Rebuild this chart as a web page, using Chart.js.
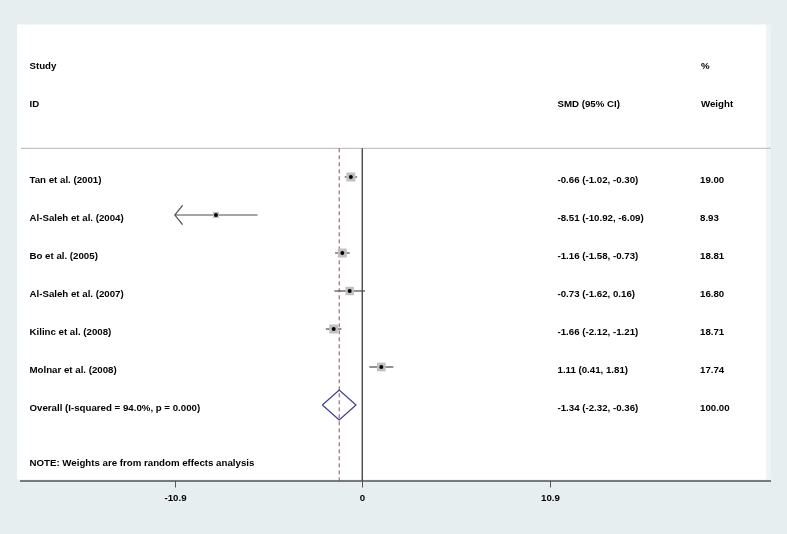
<!DOCTYPE html>
<html>
<head>
<meta charset="utf-8">
<script src="https://cdn.jsdelivr.net/npm/chart.js@4.4.1/dist/chart.umd.min.js"></script>
<style>
  html, body { margin: 0; padding: 0; background: #e7eef0; }
  #c { display: block; }
</style>
</head>
<body>
<canvas id="c" width="787" height="534"></canvas>
<script>
// ---- data ----
const studies = ['Tan et al. (2001)', 'Al-Saleh et al. (2004)', 'Bo et al. (2005)', 'Al-Saleh et al. (2007)', 'Kilinc et al. (2008)', 'Molnar et al. (2008)'];
const smd     = [-0.66, -8.51, -1.16, -0.73, -1.66, 1.11];
const lower   = [-1.02, -10.92, -1.58, -1.62, -2.12, 0.41];
const upper   = [-0.30, -6.09, -0.73, 0.16, -1.21, 1.81];
const weights = [19.00, 8.93, 18.81, 16.80, 18.71, 17.74];
const overallLabel = 'Overall (I-squared = 94.0%, p = 0.000)';
const overallEst = -1.34;
const overallLo = -2.32;
const overallHi = -0.36;
const overallWeight = 100.00;
const tickValues = [-10.9, 0, 10.9];
const tickLabels = ['-10.9', '0', '10.9'];
const headerStudy = ['Study', 'ID'];
const headerEffect = 'SMD (95% CI)';
const headerWeight = ['%', 'Weight'];
const note = 'NOTE: Weights are from random effects analysis';

// ---- layout helpers ----
const rows = studies.map((s, i) => i + 1);
const overallRow = studies.length + 1;
const FONT = 'bold 9.7px "Liberation Sans", Arial, sans-serif';
const colStudy = 29.5, colEffect = 557.5, colWeight = 700;
const sepRow = 0.245, yMin = -3, yMax = 9;

const ciSets = studies.map((s, i) => ({
  type: 'line',
  data: [{x: Math.max(lower[i], tickValues[0]), y: rows[i]}, {x: upper[i], y: rows[i]}],
  borderColor: '#4a4a4a', borderWidth: 1.2, pointRadius: 0, fill: false, order: 3
}));

const datasets = [
  { // point estimates
    type: 'scatter',
    data: studies.map((s, i) => ({x: smd[i], y: rows[i]})),
    pointStyle: 'circle', pointRadius: 2, backgroundColor: '#000', borderWidth: 0, order: 0
  },
  { // weight boxes
    type: 'scatter',
    data: studies.map((s, i) => ({x: smd[i], y: rows[i]})),
    pointStyle: 'rect',
    pointRadius: ctx => 2.065 * Math.sqrt(weights[ctx.dataIndex]) / Math.SQRT2,
    backgroundColor: '#c0c0c0', borderWidth: 0, order: 1
  },
  ...ciSets,
  { // overall diamond
    type: 'line',
    data: [
      {x: overallLo, y: overallRow}, {x: overallEst, y: overallRow - 0.395},
      {x: overallHi, y: overallRow}, {x: overallEst, y: overallRow + 0.395},
      {x: overallLo, y: overallRow}
    ],
    borderColor: '#3d3d8c', borderWidth: 1.2, pointRadius: 0, fill: false, tension: 0, order: 4
  },
  { // null line
    type: 'line',
    data: [{x: 0, y: sepRow}, {x: 0, y: yMax}],
    borderColor: '#2a2a2a', borderWidth: 1.2, pointRadius: 0, fill: false, order: 5
  },
  { // overall dashed line
    type: 'line',
    data: [{x: overallEst, y: sepRow}, {x: overallEst, y: yMax}],
    borderColor: '#9c4a4a', borderWidth: 1, borderDash: [4, 3], pointRadius: 0, fill: false, order: 5
  }
];

const forestPlugin = {
  id: 'forest',
  beforeDraw(chart) {
    const ctx = chart.ctx;
    const ys = chart.scales.y;
    ctx.save();
    ctx.fillStyle = '#e7eef0';
    ctx.fillRect(0, 0, chart.width, chart.height);
    ctx.fillStyle = '#ffffff';
    ctx.fillRect(17, 24.5, 749, 455);
    ctx.fillStyle = '#eef3f5';
    ctx.fillRect(766, 24.5, 5, 455);
    // separator
    const sy = ys.getPixelForValue(sepRow);
    ctx.strokeStyle = '#c4c4c4';
    ctx.lineWidth = 1.3;
    ctx.beginPath();
    ctx.moveTo(21, sy); ctx.lineTo(771, sy);
    ctx.stroke();
    ctx.restore();
  },
  afterDatasetsDraw(chart) {
    const ctx = chart.ctx;
    const xs = chart.scales.x, ys = chart.scales.y;
    const area = chart.chartArea;
    ctx.save();
    // arrows for truncated CIs
    ctx.strokeStyle = '#4a4a4a';
    ctx.lineWidth = 1.2;
    studies.forEach((s, i) => {
      if (lower[i] < tickValues[0]) {
        const px = xs.getPixelForValue(tickValues[0]);
        const py = ys.getPixelForValue(rows[i]);
        ctx.beginPath();
        ctx.moveTo(px + 7.7, py - 9.7);
        ctx.lineTo(px, py);
        ctx.lineTo(px + 7.7, py + 9.7);
        ctx.stroke();
      }
    });
    // axis
    const ay = area.bottom;
    ctx.strokeStyle = '#555555';
    ctx.lineWidth = 1.5;
    ctx.beginPath();
    ctx.moveTo(area.left, ay); ctx.lineTo(area.right, ay);
    ctx.stroke();
    ctx.lineWidth = 1;
    ctx.fillStyle = '#000';
    ctx.font = FONT;
    ctx.textAlign = 'center';
    ctx.textBaseline = 'alphabetic';
    tickValues.forEach((v, k) => {
      const tx = Math.round(xs.getPixelForValue(v)) + 0.5;
      ctx.beginPath();
      ctx.moveTo(tx, ay); ctx.lineTo(tx, ay + 6.5);
      ctx.stroke();
      ctx.fillText(tickLabels[k], tx, ay + 20);
    });
    // text columns
    ctx.textAlign = 'left';
    const base = r => ys.getPixelForValue(r) + 5.6;
    ctx.fillText(headerStudy[0], colStudy, base(-2));
    ctx.fillText(headerStudy[1], colStudy, base(-1));
    ctx.fillText(headerEffect, colEffect, base(-1));
    ctx.fillText(headerWeight[0], colWeight + 1, base(-2));
    ctx.fillText(headerWeight[1], colWeight + 1, base(-1));
    const f = v => v.toFixed(2);
    studies.forEach((s, i) => {
      ctx.fillText(s, colStudy, base(rows[i]));
      ctx.fillText(f(smd[i]) + ' (' + f(lower[i]) + ', ' + f(upper[i]) + ')', colEffect, base(rows[i]));
      ctx.fillText(f(weights[i]), colWeight, base(rows[i]));
    });
    ctx.fillText(overallLabel, colStudy, base(overallRow));
    ctx.fillText(f(overallEst) + ' (' + f(overallLo) + ', ' + f(overallHi) + ')', colEffect, base(overallRow));
    ctx.fillText(f(overallWeight), colWeight, base(overallRow));
    ctx.fillText(note, colStudy, base(8.45));
    ctx.restore();
  }
};

new Chart(document.getElementById('c'), {
  type: 'scatter',
  data: { datasets },
  options: {
    responsive: false,
    animation: false,
    devicePixelRatio: 1,
    layout: { padding: { left: 20, right: 16, top: 25, bottom: 53 } },
    plugins: { legend: { display: false }, tooltip: { enabled: false } },
    scales: {
      x: { type: 'linear', min: -19.91, max: 23.78, display: false },
      y: { type: 'linear', min: yMin, max: yMax, reverse: true, display: false }
    }
  },
  plugins: [forestPlugin]
});
</script>
</body>
</html>
